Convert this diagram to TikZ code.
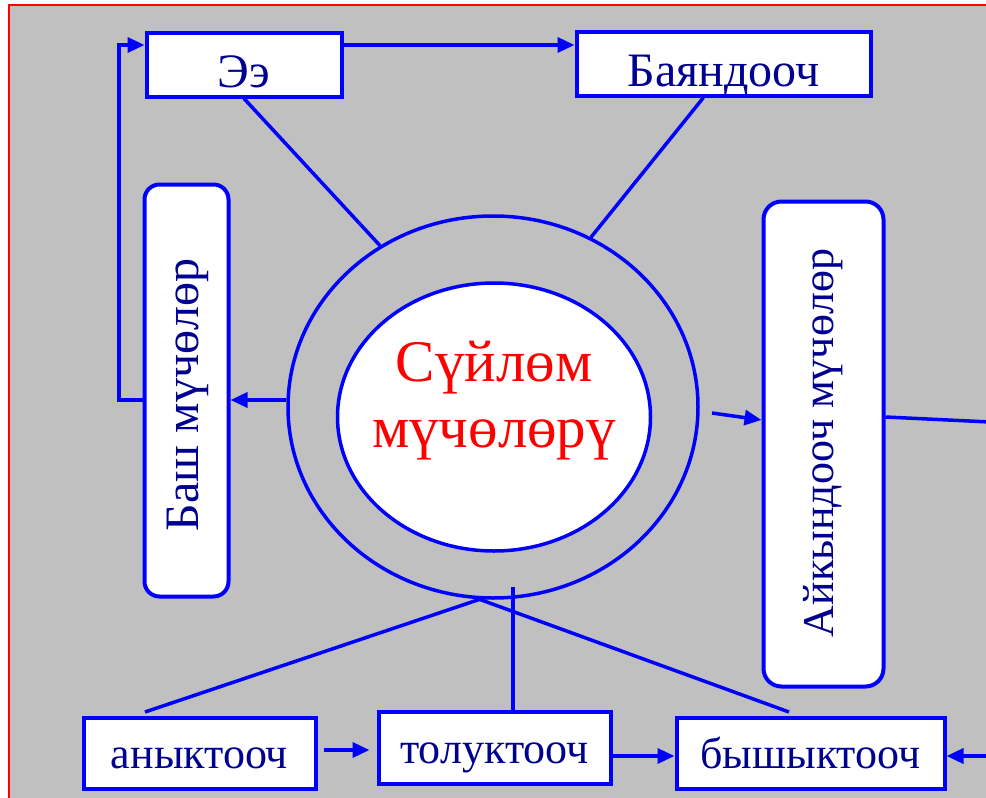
\documentclass[tikz,border=0pt]{standalone}
\usepackage{fontspec}
\setmainfont{Liberation Serif}
\usetikzlibrary{arrows.meta,shapes.geometric}
\definecolor{bg}{HTML}{C0C0C0}
\definecolor{bl}{HTML}{0000FF}
\definecolor{navy}{HTML}{000090}
\definecolor{rd}{HTML}{FF0000}
\begin{document}
\begin{tikzpicture}[x=1pt,y=-1pt,
  box/.style={draw=bl, line width=4pt, fill=white, inner sep=0pt, font=\fontsize{48}{52}\selectfont, text=navy, text height=45pt, text depth=0pt},
  bbox/.style={box, font=\fontsize{44}{48}\selectfont, text height=31pt, text depth=0pt},
  rbox/.style={draw=bl, line width=4pt, fill=white, inner sep=0pt, rounded corners=15pt},
  vtxt/.style={rotate=90, inner sep=0pt, font=\fontsize{48}{52}\selectfont, text=navy},
  ln/.style={draw=bl, line width=3.5pt},
  arr/.style={ln, -{Triangle[length=17pt,width=15pt]}},
  ell/.style={ellipse, draw=bl, line width=3.5pt, inner sep=0pt},
]
\useasboundingbox (0,0) rectangle (986,798);
\clip (0,0) rectangle (986,798);
\fill[white] (0,0) rectangle (986,798);
\filldraw[fill=bg, draw=rd, line width=2.5pt] (9,5) rectangle (1000,820);

% nodes
\node[ell, minimum width=410pt, minimum height=382pt] (outer) at (493,407) {};
\node[ell, fill=white, minimum width=313pt, minimum height=268pt] (inner) at (494,417) {};
\node[align=center, inner sep=0pt, text=rd, font=\fontsize{59}{66}\selectfont] (title) at (494,401) {Сүйлөм\\мүчөлөрү};

\node[box, minimum width=195pt, minimum height=64pt] (ee) at (244,64.5) {Ээ};
\node[box, minimum width=294pt, minimum height=64pt] (bay) at (723.5,63.5) {Баяндооч};
\node[bbox, minimum width=232pt, minimum height=71pt] (an) at (199.5,753) {аныктооч};
\node[bbox, minimum width=232pt, minimum height=72pt] (tol) at (494.5,747.5) {толуктооч};
\node[bbox, minimum width=268pt, minimum height=71pt] (byx) at (810.5,753) {бышыктооч};
\node[rbox, minimum width=84pt, minimum height=412pt] (bash) at (186.5,390.5) {};
\node[vtxt] (basht) at (188,395) {Баш мүчөлөр};
\node[rbox, rounded corners=18pt, minimum width=120pt, minimum height=485pt] (aik) at (823.5,444) {};
\node[vtxt, font=\fontsize{44}{48}\selectfont] (aikt) at (823,443) {Айкындооч мүчөлөр};

% helper coordinates
\coordinate (lp) at (119,45);
\coordinate (yb) at (0,400);
\coordinate (a1) at (712,413);
\coordinate (a2) at (0,420);
\coordinate (r1) at (0,417);
\coordinate (r2) at (990,422);
\coordinate (b1) at (145,712);
\coordinate (b2) at (789,712);
\coordinate (v1) at (513,587);
\coordinate (y1) at (0,750);
\coordinate (y2) at (0,756);
\coordinate (r3) at (990,756);

% connectors
\draw[ln] (ee.south) -- (outer.125);
\draw[ln] ([xshift=-20pt]bay.south) -- (outer.60);
\draw[arr] (ee.east |- lp) -- (bay.west |- lp);
\draw[arr] (outer.west |- yb) -- (bash.east |- yb);
\draw[arr] (bash.west |- yb) -| (lp) -- (lp -| ee.west);
\draw[arr] (a1) -- (a2 -| aik.west);
\draw[ln] (aik.east |- r1) -- (r2);
\draw[ln] (outer.266) -- (b1);
\draw[ln] (outer.266) -- (b2);
\draw[ln] (v1) -- (v1 |- tol.north);
\draw[arr, shorten <=6pt, shorten >=7pt] (an.east |- y1) -- (tol.west |- y1);
\draw[arr] (tol.east |- y2) -- (byx.west |- y2);
\draw[arr] (r3) -- (byx.east |- r3);
\end{tikzpicture}
\end{document}
